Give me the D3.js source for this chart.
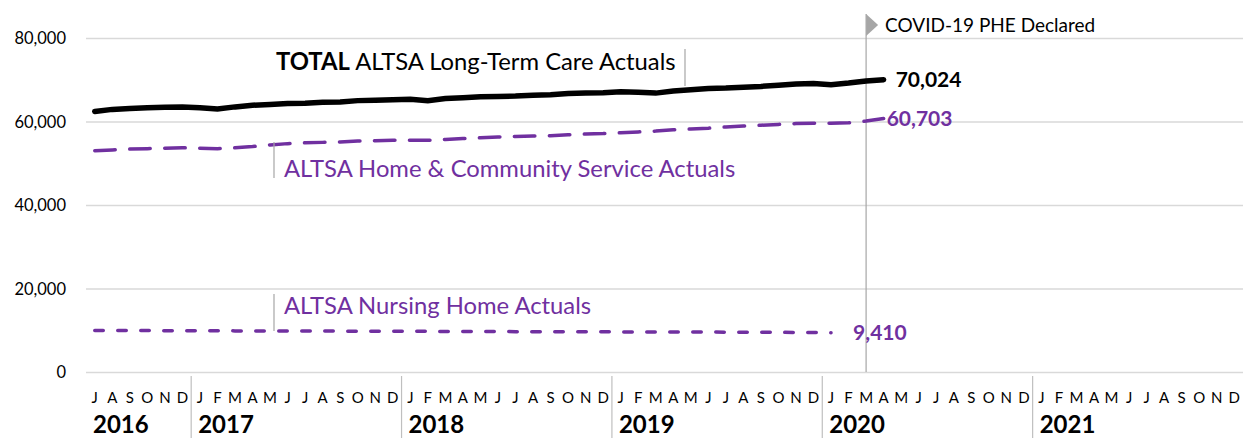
<!DOCTYPE html>
<html>
<head>
<meta charset="utf-8">
<script src="https://cdn.jsdelivr.net/npm/d3@7"></script>
<style>
  body { margin: 0; background: #fff; }
  svg { display: block; font-family: Lato, "Open Sans", sans-serif; }
</style>
</head>
<body>
<svg id="chart" width="1249" height="438"></svg>
<script>
// month letters for each year, years shown on axis
var monthLetters = ["J", "F", "M", "A", "M", "J", "J", "A", "S", "O", "N", "D"];
var years = [2016, 2017, 2018, 2019, 2020, 2021];
var firstMonth = 6; // July 2016
var yTicks = [0, 20000, 40000, 60000, 80000];

// Jul 2016 - Apr 2020
var total = [
  62400, 62900, 63100, 63300, 63400, 63500,
  63300, 63000, 63500, 63900, 64100, 64300, 64400, 64600, 64700, 65000, 65100, 65200,
  65300, 65000, 65500, 65700, 65900, 66000, 66100, 66300, 66400, 66700, 66800, 66900,
  67100, 67000, 66800, 67300, 67600, 67900, 68000, 68200, 68400, 68700, 69000, 69100,
  68800, 69200, 69700, 70024
];
// Jul 2016 - Apr 2020
var hcs = [
  53000, 53200, 53400, 53500, 53600, 53700,
  53600, 53500, 53700, 54000, 54400, 54700, 54900, 55000, 55100, 55300, 55400, 55500,
  55500, 55500, 55700, 55900, 56100, 56300, 56400, 56500, 56600, 56800, 57000, 57100,
  57300, 57500, 57700, 58000, 58200, 58400, 58700, 58900, 59100, 59300, 59500, 59600,
  59600, 59700, 60100, 60703
];
// Jul 2016 - Jan 2020
var nursing = [
  9950, 9950, 9930, 9920, 9900, 9880,
  9870, 9860, 9850, 9840, 9830, 9820, 9810, 9800, 9790, 9780, 9770, 9760,
  9750, 9730, 9720, 9700, 9690, 9680, 9670, 9660, 9650, 9640, 9630, 9620,
  9610, 9600, 9590, 9580, 9570, 9560, 9550, 9540, 9520, 9500, 9480, 9450,
  9410
];

var purple = "#7030a0";
var svg = d3.select("#chart");

// category list: one entry per month
var months = [];
years.forEach(function(yr, i) {
  monthLetters.forEach(function(l, m) {
    if (i === 0 && m < firstMonth) return;
    months.push({ key: yr + "-" + m, year: yr, m: m, letter: l });
  });
});

var x = d3.scaleBand().domain(months.map(function(d) { return d.key; })).range([86, 1243]).padding(0);
var y = d3.scaleLinear().domain([0, 80000]).range([372, 38]);
var cx = function(i) { return x(months[i].key) + x.bandwidth() / 2; };

// gridlines
var grid = svg.append("g").attr("transform", "translate(86,0)")
  .call(d3.axisLeft(y).tickValues(yTicks).tickSize(-1157).tickFormat(""));
grid.select(".domain").remove();
grid.selectAll("line").attr("stroke", "#d9d9d9").attr("stroke-width", 1.5);

// y labels
var yAxis = svg.append("g").attr("transform", "translate(66,0)")
  .call(d3.axisLeft(y).tickValues(yTicks).tickSize(0).tickPadding(0).tickFormat(d3.format(",")));
yAxis.select(".domain").remove();
yAxis.selectAll("text").attr("font-size", 16.5).attr("fill", "#000").attr("font-family", "Lato, sans-serif").attr("dy", "0.35em");

// month letters
var xAxis = svg.append("g").attr("transform", "translate(0,389)")
  .call(d3.axisBottom(x).tickSize(0).tickPadding(0).tickFormat(function(k) {
    return months.find(function(d) { return d.key === k; }).letter;
  }));
xAxis.select(".domain").remove();
xAxis.selectAll("text").attr("font-size", 15).attr("fill", "#000").attr("font-family", "Lato, sans-serif").attr("dy", "0.95em");

// year separators and labels
years.forEach(function(yr, i) {
  var first = months.find(function(d) { return d.year === yr; });
  var x0 = x(first.key);
  if (i > 0) {
    svg.append("line").attr("x1", x0).attr("x2", x0).attr("y1", 376).attr("y2", 438)
      .attr("stroke", "#bfbfbf").attr("stroke-width", 1.2);
  }
  svg.append("text").attr("x", x0 + 7).attr("y", 433).attr("font-size", 24).attr("font-weight", 700)
    .attr("fill", "#000").text(yr);
});

// COVID marker at Mar 2020
var covidIdx = months.findIndex(function(d) { return d.year === 2020 && d.m === 2; });
var covidX = cx(covidIdx);
svg.append("line").attr("x1", covidX).attr("x2", covidX).attr("y1", 14).attr("y2", 372)
  .attr("stroke", "#a6a6a6").attr("stroke-width", 1.2);
svg.append("path").attr("d", "M" + covidX + ",14 L" + (covidX + 12) + ",25 L" + covidX + ",36 Z").attr("fill", "#a6a6a6");
svg.append("text").attr("x", covidX + 19).attr("y", 32).attr("font-size", 19).attr("fill", "#000").text("COVID-19 PHE Declared");

// lines
var line = d3.line().x(function(d, i) { return cx(i); }).y(function(d) { return y(d); }).curve(d3.curveLinear);

svg.append("path").datum(nursing).attr("d", line).attr("fill", "none").attr("stroke", purple)
  .attr("stroke-width", 3.5).attr("stroke-linecap", "round").attr("stroke-dasharray", "8.5,14.5");
svg.append("path").datum(hcs).attr("d", line).attr("fill", "none").attr("stroke", purple)
  .attr("stroke-width", 3.5).attr("stroke-linecap", "round").attr("stroke-dasharray", "20.5,14.5");
svg.append("path").datum(total).attr("d", line).attr("fill", "none").attr("stroke", "#000")
  .attr("stroke-width", 5.5).attr("stroke-linecap", "round");

// end value labels
var lastT = total.length - 1, lastH = hcs.length - 1, lastN = nursing.length - 1;
svg.append("text").attr("x", cx(lastT) + 12).attr("y", y(total[lastT])).attr("dy", "0.35em")
  .attr("font-size", 21).attr("font-weight", 700).attr("fill", "#000").text(d3.format(",")(total[lastT]));
svg.append("text").attr("x", cx(lastH) + 3).attr("y", y(hcs[lastH])).attr("dy", "0.35em")
  .attr("font-size", 21).attr("font-weight", 700).attr("fill", purple).text(d3.format(",")(hcs[lastH]));
svg.append("text").attr("x", cx(lastN) + 22).attr("y", y(nursing[lastN])).attr("dy", "0.35em")
  .attr("font-size", 21).attr("font-weight", 700).attr("fill", purple).text(d3.format(",")(nursing[lastN]));

// series name labels with leader lines
function leader(x0, y0, y1) {
  svg.append("line").attr("x1", x0).attr("x2", x0).attr("y1", y0).attr("y2", y1)
    .attr("stroke", "#a6a6a6").attr("stroke-width", 1.2);
}
var t = svg.append("text").attr("x", 276).attr("y", 70).attr("font-size", 23.8).attr("fill", "#000");
t.append("tspan").attr("font-weight", 700).text("TOTAL");
t.append("tspan").text(" ALTSA Long-Term Care Actuals");
leader(685, 49, 86);

svg.append("text").attr("x", 284).attr("y", 177).attr("font-size", 23.8).attr("fill", purple)
  .text("ALTSA Home & Community Service Actuals");
leader(274, 142, 178);

svg.append("text").attr("x", 284).attr("y", 314).attr("font-size", 23.8).attr("fill", purple)
  .text("ALTSA Nursing Home Actuals");
leader(274, 294, 331);
</script>
</body>
</html>
